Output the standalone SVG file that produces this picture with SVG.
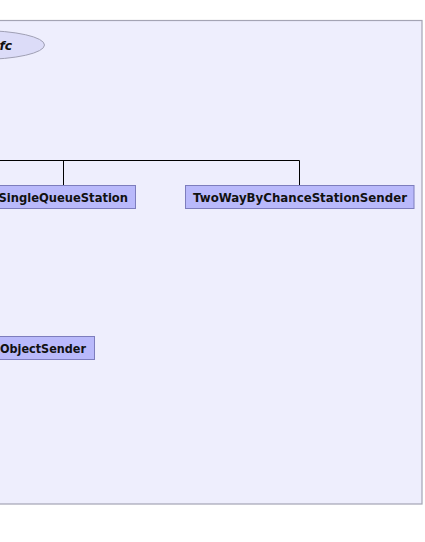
<svg xmlns="http://www.w3.org/2000/svg" width="425" height="542" viewBox="0 0 425 542">
<style>
.panel{fill:#eeeefd;stroke:#a4a4b4;stroke-width:1.2}
.box{fill:#b9b9fb;stroke:#7d7dbd;stroke-width:1}
.lbl{font-family:"DejaVu Sans",sans-serif;font-weight:bold;font-size:12.3px;fill:#111}
.ell{fill:#dcdcf8;stroke:#a0a0b4;stroke-width:1}
.con{fill:none;stroke:#000;stroke-width:1}
</style>
<rect width="425" height="542" fill="#ffffff"/>
<g id="panel">
<rect class="panel" x="-20" y="20.5" width="442" height="483.5"/>
</g>
<g id="fc">
<ellipse class="ell" cx="-20" cy="45" rx="64.5" ry="14.5"/>
<text class="lbl" x="-0.5" y="50" font-size="13px" font-style="italic">fc</text>
</g>
<g id="connectors">
<path class="con" d="M-5 160.5H299.5V185.5M63.5 160.5V185.5"/>
</g>
<g id="SingleQueueStation">
<rect class="box" x="-11" y="185.5" width="146.5" height="23"/>
<text class="lbl" x="-1.5" y="202.3" textLength="129.5" lengthAdjust="spacingAndGlyphs">SingleQueueStation</text>
</g>
<g id="TwoWayByChanceStationSender">
<rect class="box" x="185.5" y="185.5" width="228.5" height="23"/>
<text class="lbl" x="193" y="202.3" textLength="214" lengthAdjust="spacingAndGlyphs">TwoWayByChanceStationSender</text>
</g>
<g id="ObjectSender">
<rect class="box" x="-11" y="336.5" width="105.5" height="23"/>
<text class="lbl" x="0" y="353.3" textLength="86" lengthAdjust="spacingAndGlyphs">ObjectSender</text>
</g>
</svg>
